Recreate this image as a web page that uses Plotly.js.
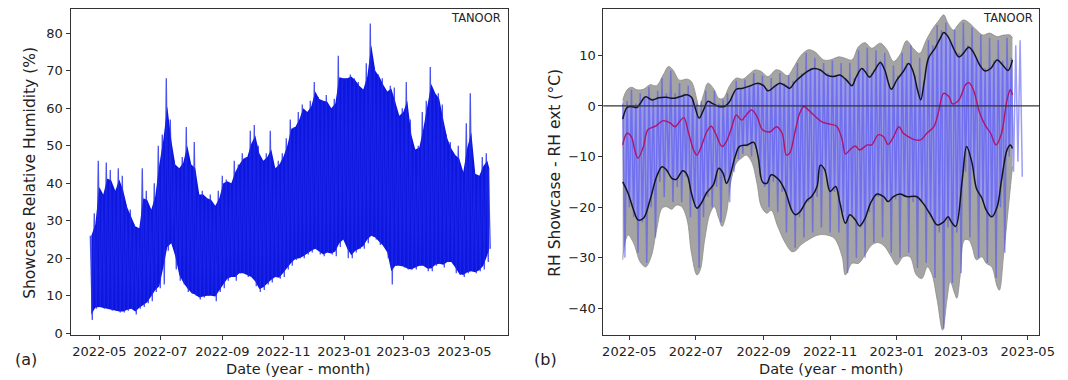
<!DOCTYPE html>
<html><head><meta charset="utf-8">
<script src="https://cdn.plot.ly/plotly-3.0.1.min.js"></script>
<style>html,body{margin:0;padding:0;background:#fff}#chart{width:1068px;height:380px}</style>
</head><body><div id="chart"></div>
<script>
// ---------- Panel (a): showcase RH, sampled envelope (top spike / bottom) every 4 days ----------
const aDates = ['2022-04-22','2022-04-26','2022-04-30','2022-05-04','2022-05-08','2022-05-12','2022-05-16','2022-05-20','2022-05-24','2022-05-28',
'2022-06-01','2022-06-05','2022-06-09','2022-06-13','2022-06-17','2022-06-21','2022-06-25','2022-06-29','2022-07-03','2022-07-07',
'2022-07-11','2022-07-15','2022-07-19','2022-07-23','2022-07-27','2022-07-31','2022-08-04','2022-08-08','2022-08-12','2022-08-16',
'2022-08-20','2022-08-24','2022-08-28','2022-09-01','2022-09-05','2022-09-09','2022-09-13','2022-09-17','2022-09-21','2022-09-25',
'2022-09-29','2022-10-03','2022-10-07','2022-10-11','2022-10-15','2022-10-19','2022-10-23','2022-10-27','2022-10-31','2022-11-04',
'2022-11-08','2022-11-12','2022-11-16','2022-11-20','2022-11-24','2022-11-28','2022-12-02','2022-12-06','2022-12-10','2022-12-14',
'2022-12-18','2022-12-22','2022-12-26','2022-12-30','2023-01-03','2023-01-07','2023-01-11','2023-01-15','2023-01-19','2023-01-23',
'2023-01-27','2023-01-31','2023-02-04','2023-02-08','2023-02-12','2023-02-16','2023-02-20','2023-02-24','2023-02-28','2023-03-04',
'2023-03-08','2023-03-12','2023-03-16','2023-03-20','2023-03-24','2023-03-28','2023-04-01','2023-04-05','2023-04-09','2023-04-13',
'2023-04-17','2023-04-21','2023-04-25','2023-04-29','2023-05-03','2023-05-07','2023-05-11','2023-05-15','2023-05-19','2023-05-23','2023-05-25'];
const aHigh = [26,32,46,37,45.5,43.5,38,44,42,34, 33,29,28,44,38,33,40,50,53,68, 57,46,44,47,55,45,51,37,38,36,
37,34,38,42,41,40,46,45,48,47, 54,55.5,50,46,48,54,44,46,48,52, 57,55,59,61,59,62,67,63,62,63.5,
60,62.5,74,68,68,69,68,67,65,72, 82.6,71,69,68,64.5,66,65.5,58,60,67, 57,49,50,59,62,71,64,64,61,53,
51,47.5,50,43,56,64,43,42,47,48,44];
const aLow = [3.5,6.5,7,6.5,6.5,6,6,5.5,5.5,6, 6.5,5,6.5,7,8,8.5,11,12,13,22, 24,17,14,13,11,10.5,10,9,9.5,10,
10,8.5,11,12,14,15,14,16,16,15, 15,12.5,11,11.5,13,13.5,15,14.5,15,17, 18,19.5,20,20,21,21.5,22.5,21,20.5,21.5,
21,20.5,23,25,20,20,21.5,22.5,22.5,24, 26,25,23.5,23,20,13,18,18,17.5,17, 17,17,18,18,16.5,16.5,18,18.5,17.5,19,
19,16,15.5,15,16,16.5,16,16.5,17,19,22.5];

// ---------- Panel (b): RH showcase - RH ext ----------
// hourly differences, sampled envelope every 4 days
const bDates = ['2022-04-25','2022-04-29','2022-05-03','2022-05-07','2022-05-11','2022-05-15','2022-05-19','2022-05-23','2022-05-27','2022-05-31',
'2022-06-04','2022-06-08','2022-06-12','2022-06-16','2022-06-20','2022-06-24','2022-06-28','2022-07-02','2022-07-06','2022-07-10',
'2022-07-14','2022-07-18','2022-07-22','2022-07-26','2022-07-30','2022-08-03','2022-08-07','2022-08-11','2022-08-15','2022-08-19',
'2022-08-23','2022-08-27','2022-08-31','2022-09-04','2022-09-08','2022-09-12','2022-09-16','2022-09-20','2022-09-24','2022-09-28',
'2022-10-02','2022-10-06','2022-10-10','2022-10-14','2022-10-18','2022-10-22','2022-10-26','2022-10-30','2022-11-03','2022-11-07',
'2022-11-11','2022-11-15','2022-11-19','2022-11-23','2022-11-27','2022-12-01','2022-12-05','2022-12-09','2022-12-13','2022-12-17',
'2022-12-21','2022-12-25','2022-12-29','2023-01-02','2023-01-06','2023-01-10','2023-01-14','2023-01-18','2023-01-22','2023-01-26',
'2023-01-30','2023-02-03','2023-02-07','2023-02-11','2023-02-15','2023-02-19','2023-02-23','2023-02-27','2023-03-03','2023-03-07',
'2023-03-11','2023-03-15','2023-03-19','2023-03-23','2023-03-27','2023-03-31','2023-04-04','2023-04-08','2023-04-12','2023-04-16',
'2023-04-20','2023-04-24'];
const bTop = [0.5,1.0,3.2,0.5,2.5,1.5,3.8,1.5,3.0,5.5, 2.5,7.0,2.5,4.5,2.5,4.0,1.5,0.5,1.0,3.0, 1.0,3.0,0.5,1.2,2.5,2.0,5.0,3.5,5.2,4.0,
6.5,4.5,6.0,3.5,5.5,4.0,6.5,4.5,6.0,5.0, 8.5,6.5,10.5,7.5,9.5,7.0,8.5,6.5,9.0,6.0, 8.5,5.5,8.5,5.5,11.0,7.5,11.5,6.5,11.0,9.0,
10.5,4.5,8.0,6.0,10.5,8.5,12.0,6.0,9.5,5.0, 13.0,12.0,16.0,15.0,16.5,13.0,15.0,10.5,16.5,12.0, 15.5,9.5,14.0,7.5,13.5,9.0,13.0,9.0,13.5,9.5,
12,13];
const bBot = [-30,-20,-22,-29,-23,-31,-20,-26,-15,-18, -13,-19,-16,-19,-14,-22,-20,-32,-22,-18, -20,-16,-23,-14,-19,-13,-10.5,-9.5,-8,-10,
-8.5,-14,-16,-20,-15,-21,-17,-25,-20,-28, -22,-26,-19,-25,-18,-24,-13,-25,-17,-25, -21,-33,-22,-30,-24,-30,-21,-27,-18,-26,
-19,-29,-18.5,-30,-18,-29,-19,-32,-19,-31, -22,-34,-25,-44,-24,-35,-25,-33,-13,-26, -13,-30,-19,-31,-22,-34,-20,-29,-10,-13,
-11,-14];

// smoothed upper (black) curve
const ubDates = ['2022-04-25','2022-04-29','2022-05-03','2022-05-08','2022-05-11','2022-05-16','2022-05-22','2022-05-28','2022-06-04','2022-06-10',
'2022-06-16','2022-06-23','2022-06-27','2022-06-30','2022-07-04','2022-07-08','2022-07-12','2022-07-17','2022-07-22','2022-07-28',
'2022-08-01','2022-08-07','2022-08-13','2022-08-20','2022-08-27','2022-09-01','2022-09-05','2022-09-12','2022-09-16','2022-09-21',
'2022-09-25','2022-09-30','2022-10-04','2022-10-11','2022-10-17','2022-10-23','2022-10-29','2022-11-04','2022-11-10','2022-11-16',
'2022-11-21','2022-11-25','2022-11-30','2022-12-03','2022-12-07','2022-12-12','2022-12-17','2022-12-21','2022-12-27','2023-01-01',
'2023-01-07','2023-01-12','2023-01-16','2023-01-20','2023-01-23','2023-01-26','2023-01-30','2023-02-05','2023-02-10','2023-02-13',
'2023-02-17','2023-02-22','2023-02-27','2023-03-03','2023-03-08','2023-03-12','2023-03-18','2023-03-23','2023-03-28','2023-04-03',
'2023-04-08','2023-04-13','2023-04-17'];
const ubVals = [-2.6,-0.3,-0.1,-0.3,0.5,1.8,1.2,1.6,1.7,1.5, 1.8,2.2,1.7,-0.1,-2.4,-0.8,0.9,0.4,-0.1,0, 0.9,3.3,3.5,4.0,4.5,4.0,3.0,4.0,4.5,4.0,
3.5,4.8,5.6,6.8,7.4,7.1,6.1,5.8,6.1,5.1, 4.0,5.8,7.4,6.8,5.7,7.1,8.6,7.1,3.3,5.1, 6.8,8.4,6.8,3.2,1.2,4.5,9.4,11.4,13.4,14.5,
13.7,11.4,9.7,10.4,11.6,10.7,8.1,6.9,7.4,9.1, 8.1,7.0,9.1];

// smoothed mean (purple) curve
const pmDates = ['2022-04-25','2022-04-29','2022-05-03','2022-05-06','2022-05-09','2022-05-14','2022-05-18','2022-05-25','2022-06-01','2022-06-07',
'2022-06-12','2022-06-16','2022-06-20','2022-06-24','2022-06-29','2022-07-02','2022-07-06','2022-07-11','2022-07-15','2022-07-19',
'2022-07-25','2022-07-29','2022-08-03','2022-08-07','2022-08-12','2022-08-15','2022-08-21','2022-08-26','2022-08-31','2022-09-07',
'2022-09-13','2022-09-18','2022-09-22','2022-09-25','2022-09-30','2022-10-04','2022-10-08','2022-10-12','2022-10-17','2022-10-24',
'2022-11-01','2022-11-07','2022-11-12','2022-11-15','2022-11-19','2022-11-24','2022-11-28','2022-12-05','2022-12-09','2022-12-15',
'2022-12-20','2022-12-24','2022-12-29','2023-01-03','2023-01-07','2023-01-12','2023-01-18','2023-01-23','2023-01-29','2023-02-04',
'2023-02-08','2023-02-13','2023-02-18','2023-02-21','2023-02-27','2023-03-05','2023-03-08','2023-03-12','2023-03-18','2023-03-23',
'2023-03-28','2023-04-02','2023-04-07','2023-04-12','2023-04-15','2023-04-17'];
const pmVals = [-7.7,-5.4,-6.1,-8.7,-10.3,-8.0,-4.7,-4.0,-2.9,-3.3, -4.1,-3.1,-2.3,-5.1,-8.7,-9.7,-8.0,-5.1,-4.0,-5.4,
-8.0,-7.0,-4.1,-1.8,-2.8,-2.1,-0.8,-2.1,-4.7,-5.1, -4.1,-5.4,-9.7,-9.3,-5.0,-1.5,-0.1,-0.8,-1.8,-3.1,
-3.6,-4.0,-6.7,-9.5,-8.7,-7.9,-8.7,-7.7,-7.7,-5.7, -6.1,-7.6,-6.1,-4.1,-5.4,-6.1,-6.7,-6.7,-5.3,-4.1,
-1.4,2.5,1.8,0.4,1.2,4.2,4.6,3.3,-1.4,-3.8, -5.4,-7.7,-5.4,1.2,3.2,2.2];

// smoothed lower (black) curve
const lbDates = ['2022-04-25','2022-04-30','2022-05-05','2022-05-09','2022-05-14','2022-05-20','2022-05-26','2022-05-31','2022-06-04','2022-06-09',
'2022-06-13','2022-06-19','2022-06-23','2022-06-27','2022-07-02','2022-07-06','2022-07-11','2022-07-17','2022-07-22','2022-07-26',
'2022-07-29','2022-08-01','2022-08-06','2022-08-10','2022-08-17','2022-08-23','2022-08-27','2022-08-31','2022-09-04','2022-09-08',
'2022-09-15','2022-09-21','2022-09-27','2022-09-30','2022-10-04','2022-10-11','2022-10-15','2022-10-20','2022-10-23','2022-10-27',
'2022-11-01','2022-11-06','2022-11-10','2022-11-15','2022-11-19','2022-11-24','2022-11-28','2022-12-03','2022-12-08','2022-12-14',
'2022-12-20','2022-12-24','2022-12-29','2023-01-04','2023-01-10','2023-01-19','2023-01-25','2023-02-01','2023-02-07','2023-02-13',
'2023-02-17','2023-02-20','2023-02-24','2023-03-02','2023-03-06','2023-03-11','2023-03-15','2023-03-20','2023-03-24','2023-03-29',
'2023-04-03','2023-04-07','2023-04-12','2023-04-15','2023-04-17'];
const lbVals = [-15.0,-17.3,-20.6,-22.5,-22.2,-18.6,-14.0,-12.0,-12.6,-14.3, -14.5,-12.8,-13.6,-17.3,-20.2,-19.2,-17.1,-15.6,-12.3,-13.3,
-15.3,-14.0,-10.0,-8.0,-7.7,-7.2,-10.0,-15.0,-15.3,-13.6, -14.6,-16.9,-20.7,-21.5,-21.0,-18.6,-17.9,-15.9,-11.7,-12.6,
-16.9,-15.9,-19.2,-23.2,-21.5,-22.5,-23.7,-22.2,-19.2,-17.4, -17.9,-18.9,-17.9,-17.4,-17.9,-17.9,-19.2,-21.5,-23.5,-22.9,
-21.9,-22.9,-23.8,-14.6,-8.0,-11.3,-16.3,-18.2,-20.6,-21.9, -19.9,-14.6,-8.7,-7.7,-8.4];

// upper envelope of grey band
const ueDates = ['2022-04-25','2022-04-29','2022-05-03','2022-05-08','2022-05-14','2022-05-20','2022-05-26','2022-06-01','2022-06-06','2022-06-10',
'2022-06-16','2022-06-23','2022-06-27','2022-07-02','2022-07-04','2022-07-08','2022-07-12','2022-07-17','2022-07-22','2022-07-26',
'2022-08-01','2022-08-07','2022-08-13','2022-08-18','2022-08-24','2022-08-30','2022-09-05','2022-09-12','2022-09-16','2022-09-23',
'2022-09-29','2022-10-05','2022-10-12','2022-10-18','2022-10-26','2022-11-01','2022-11-09','2022-11-15','2022-11-21','2022-11-27',
'2022-12-03','2022-12-09','2022-12-17','2022-12-23','2022-12-29','2023-01-04','2023-01-10','2023-01-16','2023-01-22','2023-01-28',
'2023-02-03','2023-02-09','2023-02-13','2023-02-17','2023-02-22','2023-02-26','2023-03-03','2023-03-09','2023-03-15','2023-03-21',
'2023-03-27','2023-04-03','2023-04-09','2023-04-15','2023-04-17'];
const ueVals = [1.2,3.2,3.7,3.2,3.3,4.2,4.0,6.1,7.8,7.1, 5.1,5.3,4.8,1.2,-0.3,2.2,4.5,3.5,1.5,1.5, 4.0,5.5,5.3,6.1,7.1,6.8,5.8,7.1,7.0,6.0,
7.8,9.9,11.1,10.7,9.1,9.1,9.7,9.4,9.1,11.7, 12.5,11.4,12.4,11.1,8.8,10.1,12.9,11.4,10.4,13.0, 15.3,17.0,18.0,16.3,15.0,16.0,17.0,16.3,15.0,14.0,
14.4,13.7,14.0,14.0,13.4];

// lower envelope of grey band
const leDates = ['2022-04-25','2022-04-27','2022-04-30','2022-05-05','2022-05-11','2022-05-16','2022-05-21','2022-05-26','2022-05-31','2022-06-04',
'2022-06-09','2022-06-13','2022-06-18','2022-06-23','2022-06-27','2022-07-02','2022-07-05','2022-07-09','2022-07-14','2022-07-18',
'2022-07-22','2022-07-25','2022-07-29','2022-08-02','2022-08-07','2022-08-12','2022-08-16','2022-08-21','2022-08-26','2022-08-30',
'2022-09-04','2022-09-08','2022-09-14','2022-09-21','2022-09-27','2022-10-01','2022-10-05','2022-10-14','2022-10-21','2022-10-29',
'2022-11-05','2022-11-12','2022-11-15','2022-11-21','2022-11-27','2022-12-03','2022-12-09','2022-12-15','2022-12-21','2022-12-27',
'2023-01-01','2023-01-07','2023-01-13','2023-01-19','2023-01-24','2023-01-29','2023-02-02','2023-02-07','2023-02-12','2023-02-16',
'2023-02-19','2023-02-23','2023-02-25','2023-02-28','2023-03-04','2023-03-08','2023-03-11','2023-03-15','2023-03-20','2023-03-24',
'2023-03-29','2023-04-03','2023-04-05','2023-04-09','2023-04-13','2023-04-17'];
const leVals = [-30.4,-27.1,-25.5,-27.1,-30.8,-31.8,-29.8,-24.5,-20.2,-19.9, -20.4,-19.6,-19.9,-22.5,-29.1,-33.4,-32.4,-26.5,-21.2,-19.9,
-22.2,-23.8,-21.2,-15.0,-11.3,-10.3,-9.7,-11.0,-15.3,-19.9, -21.2,-20.6,-23.8,-27.1,-28.8,-28.5,-27.5,-26.2,-25.5,-25.5,
-26.2,-29.8,-33.4,-31.1,-31.1,-29.4,-27.5,-27.0,-27.8,-29.8, -31.4,-29.8,-29.8,-33.4,-34.1,-31.8,-33.1,-38.3,-44.3,-38.3,
-34.7,-37.0,-38.0,-33.7,-26.5,-26.5,-27.8,-30.4,-29.8,-31.1, -31.8,-35.7,-36.4,-29.1,-20.6,-12.0];

// ---------- helpers ----------
function shift(d, days){
  const t = new Date(d + 'T00:00:00Z').getTime() + days * 86400000;
  return new Date(t).toISOString().slice(0,16).replace('T',' ');
}
function zigzag(dates, hi, lo){
  const x = [], y = [];
  for (let i = 0; i < dates.length; i++){
    x.push(dates[i]); y.push(hi[i]);
    x.push(shift(dates[i], 2)); y.push(lo[i]);
  }
  return {x, y};
}
// dense core of the series: halfway between each sample and the neighbouring-sample min (highs) / max (lows)
function core(dates, hi, lo){
  const n = dates.length, x = [], y = [];
  const win = (arr, i, f) => f(arr[Math.max(0,i-1)], arr[i], arr[Math.min(n-1,i+1)]);
  for (let i = 0; i < n; i++){ x.push(shift(dates[i], 1)); y.push(0.5 * (hi[i] + win(hi, i, Math.min))); }
  for (let i = n - 1; i >= 0; i--){ x.push(shift(dates[i], 1)); y.push(0.5 * (lo[i] + win(lo, i, Math.max))); }
  return {x, y};
}

const FONT = 'DejaVu Sans, Verdana, sans-serif';
const zA = zigzag(aDates, aHigh, aLow);
const cA = core(aDates, aHigh, aLow);
const zB = zigzag(bDates, bTop, bBot);

const traces = [
  // panel a: dense hourly series rendered as its sampled envelope
  {x: cA.x, y: cA.y, xaxis:'x', yaxis:'y', mode:'lines', fill:'toself', fillcolor:'rgb(12,22,222)',
   line:{width:0}, hoverinfo:'skip'},
  {x: zA.x, y: zA.y, xaxis:'x', yaxis:'y', mode:'lines', line:{color:'rgba(30,40,235,0.8)', width:1.3}, hoverinfo:'skip'},
  // panel b grey envelope band
  {x: leDates, y: leVals, xaxis:'x2', yaxis:'y2', mode:'lines', line:{color:'#8c8c8c', width:0.8, shape:'spline'}, hoverinfo:'skip'},
  {x: ueDates, y: ueVals, xaxis:'x2', yaxis:'y2', mode:'lines', fill:'tonexty', fillcolor:'#a4a4a4',
   line:{color:'#8c8c8c', width:0.8, shape:'spline'}, hoverinfo:'skip'},
  // light grey between black curves
  {x: lbDates, y: lbVals, xaxis:'x2', yaxis:'y2', mode:'lines', line:{width:0, shape:'spline'}, hoverinfo:'skip'},
  {x: ubDates, y: ubVals, xaxis:'x2', yaxis:'y2', mode:'lines', fill:'tonexty', fillcolor:'#d6d6d6',
   line:{width:0, shape:'spline'}, hoverinfo:'skip'},
  {x: lbDates, y: lbVals, xaxis:'x2', yaxis:'y2', mode:'lines', line:{width:0, shape:'spline'}, hoverinfo:'skip'},
  {x: ubDates, y: ubVals, xaxis:'x2', yaxis:'y2', mode:'lines', fill:'tonexty', fillcolor:'rgba(95,95,240,0.5)',
   line:{width:0, shape:'spline'}, hoverinfo:'skip'},
  // hourly differences
  {x: zB.x, y: zB.y, xaxis:'x2', yaxis:'y2', mode:'lines', line:{color:'rgba(75,75,250,0.55)', width:1.5}, hoverinfo:'skip'},
  // curves
  {x: ubDates, y: ubVals, xaxis:'x2', yaxis:'y2', mode:'lines', line:{color:'#141420', width:1.5, shape:'spline'}, hoverinfo:'skip'},
  {x: lbDates, y: lbVals, xaxis:'x2', yaxis:'y2', mode:'lines', line:{color:'#141420', width:1.5, shape:'spline'}, hoverinfo:'skip'},
  {x: pmDates, y: pmVals, xaxis:'x2', yaxis:'y2', mode:'lines', line:{color:'#b0156a', width:1.4, shape:'spline'}, hoverinfo:'skip'}
];

const axisCommon = {
  showline:true, mirror:true, linecolor:'#333', linewidth:1, ticks:'outside', ticklen:4, tickwidth:1, tickcolor:'#333',
  showgrid:false, zeroline:false, tickfont:{family:FONT, size:13, color:'#222'}
};
const yDom = [1 - 335/380, 1 - 9.3/380];

const layout = {
  width:1068, height:380, margin:{l:0, r:0, t:0, b:0}, showlegend:false,
  paper_bgcolor:'#fff', plot_bgcolor:'#fff', font:{family:FONT, color:'#222'},
  xaxis: Object.assign({}, axisCommon, {domain:[70.5/1068, 508/1068], anchor:'y', type:'date',
    range:['2022-04-02 05:00','2023-06-13 17:00'], tick0:'2022-05-01', dtick:'M2', tickformat:'%Y-%m'}),
  yaxis: Object.assign({}, axisCommon, {domain:yDom, anchor:'x', range:[-0.5, 86.4], tick0:0, dtick:10}),
  xaxis2: Object.assign({}, axisCommon, {domain:[603.3/1068, 1039.3/1068], anchor:'y2', type:'date',
    range:['2022-04-07 05:00','2023-05-11 14:00'], tick0:'2022-05-01', dtick:'M2', tickformat:'%Y-%m'}),
  yaxis2: Object.assign({}, axisCommon, {domain:yDom, anchor:'x2', range:[-45.26, 19.1], tickvals:[-40,-30,-20,-10,0,10]}),
  shapes:[{type:'line', xref:'x2 domain', x0:0, x1:1, yref:'y2', y0:0, y1:0, line:{color:'#333', width:1.2}, layer:'above'}],
  annotations:[
    {text:'TANOOR', xref:'paper', yref:'paper', x:502.7/1068, y:1-18/380, xanchor:'right', yanchor:'middle', showarrow:false, font:{family:FONT, size:11.5, color:'#222'}},
    {text:'TANOOR', xref:'paper', yref:'paper', x:1035/1068, y:1-18/380, xanchor:'right', yanchor:'middle', showarrow:false, font:{family:FONT, size:11.5, color:'#222'}},
    {text:'(a)', xref:'paper', yref:'paper', x:25.5/1068, y:1-359/380, xanchor:'center', yanchor:'middle', showarrow:false, font:{family:FONT, size:16, color:'#222'}},
    {text:'(b)', xref:'paper', yref:'paper', x:545.5/1068, y:1-359/380, xanchor:'center', yanchor:'middle', showarrow:false, font:{family:FONT, size:16, color:'#222'}},
    {text:'Date (year - month)', xref:'paper', yref:'paper', x:297.5/1068, y:1-369/380, xanchor:'center', yanchor:'middle', showarrow:false, font:{family:FONT, size:14.5, color:'#222'}},
    {text:'Date (year - month)', xref:'paper', yref:'paper', x:830.5/1068, y:1-369/380, xanchor:'center', yanchor:'middle', showarrow:false, font:{family:FONT, size:14.5, color:'#222'}},
    {text:'Showcase Relative Humidity (%)', textangle:-90, xref:'paper', yref:'paper', x:29.3/1068, y:1-172.5/380, xanchor:'center', yanchor:'middle', showarrow:false, font:{family:FONT, size:15.5, color:'#222'}},
    {text:'RH Showcase - RH ext (°C)', textangle:-90, xref:'paper', yref:'paper', x:554.2/1068, y:1-172.5/380, xanchor:'center', yanchor:'middle', showarrow:false, font:{family:FONT, size:15.5, color:'#222'}}
  ]
};

Plotly.newPlot('chart', traces, layout, {staticPlot:true, displayModeBar:false});
</script>
</body></html>
